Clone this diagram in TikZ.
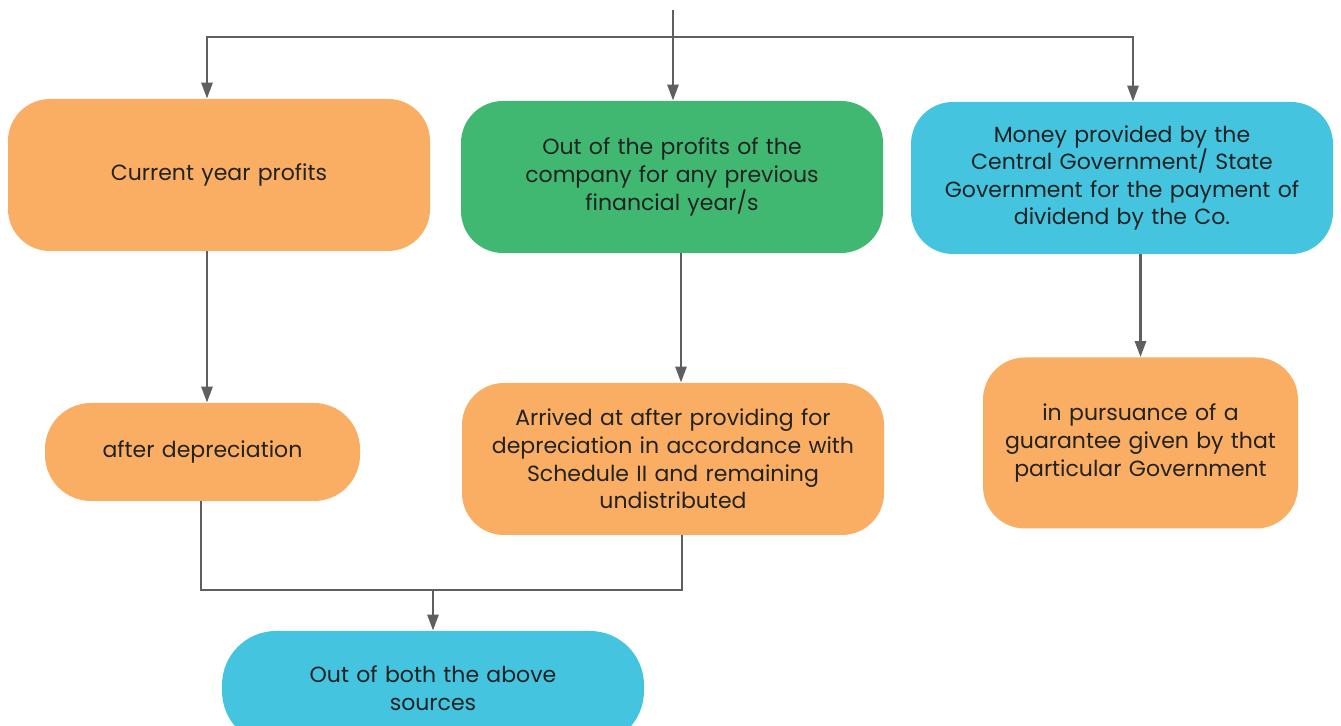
\documentclass[tikz,border=0pt]{standalone}
\usepackage{fontspec}
\setmainfont{Poppins}
\usetikzlibrary{arrows.meta}

\definecolor{boxorange}{RGB}{250,174,99}
\definecolor{boxgreen}{RGB}{65,184,113}
\definecolor{boxblue}{RGB}{69,196,224}
\definecolor{wiregray}{RGB}{95,95,98}
\definecolor{inkgray}{RGB}{34,34,34}

\begin{document}
\begin{tikzpicture}[x=0.5pt, y=-0.5pt,
    box/.style={rounded corners=21pt, inner sep=0pt, align=center,
        text=inkgray, font=\fontsize{11}{13.8}\selectfont},
    wide/.style={box, minimum width=211pt, minimum height=76pt, text width=198pt},
    narrow/.style={box, minimum width=157.5pt, text width=152pt},
    wire/.style={draw=wiregray, line width=1.4pt},
    arr/.style={wire, -{Triangle[width=5.5pt,length=8pt]}}]
    \useasboundingbox (0,0) rectangle (1341,726);

    % top row
    \node[wide, fill=boxorange] (cur) at (219,175) {Current year profits};
    \node[wide, fill=boxgreen] (prev) at (672,177) {Out of the profits of the\\company for any previous\\financial year/s};
    \node[wide, fill=boxblue] (govt) at (1122,178) {Money provided by the\\Central Government/ State\\Government for the payment of\\dividend by the Co.};

    % second row
    \node[narrow, fill=boxorange, minimum height=49pt, rounded corners=23pt] (dep) at (202.5,452) {after depreciation};
    \node[wide, fill=boxorange] (sched) at (673,459) {Arrived at after providing for\\depreciation in accordance with\\Schedule II and remaining\\undistributed};
    \node[narrow, fill=boxorange, minimum height=85.5pt] (guar) at (1140.5,443) {in pursuance of a\\guarantee given by that\\particular Government};

    % bottom
    \node[wide, fill=boxblue, minimum height=57pt, rounded corners=27pt] (both) at (433,688) {Out of both the above\\sources};

    \coordinate (top) at (673,10);
    \coordinate (split) at (673,37);
    \coordinate (join) at (433,590);

    % feed from above
    \draw[arr] (top) -- (top |- prev.north);
    \draw[arr] (split) -| ([xshift=-6pt]cur.north);
    \draw[arr] (split) -| ([xshift=5.5pt]govt.north);

    % down to second row
    \draw[arr] ([xshift=-6pt]cur.south) -- ([xshift=-6pt]cur.south |- dep.north);
    \draw[arr] ([xshift=4.5pt]prev.south) -- ([xshift=4.5pt]prev.south |- sched.north);
    \draw[arr] (guar.north |- govt.south) -- (guar.north);

    % both sources merge
    \draw[wire] ([xshift=-0.75pt]dep.south) |- ([xshift=4.5pt]sched.south |- join) -- ([xshift=4.5pt]sched.south);
    \draw[arr] (join) -- (both.north);
\end{tikzpicture}
\end{document}
